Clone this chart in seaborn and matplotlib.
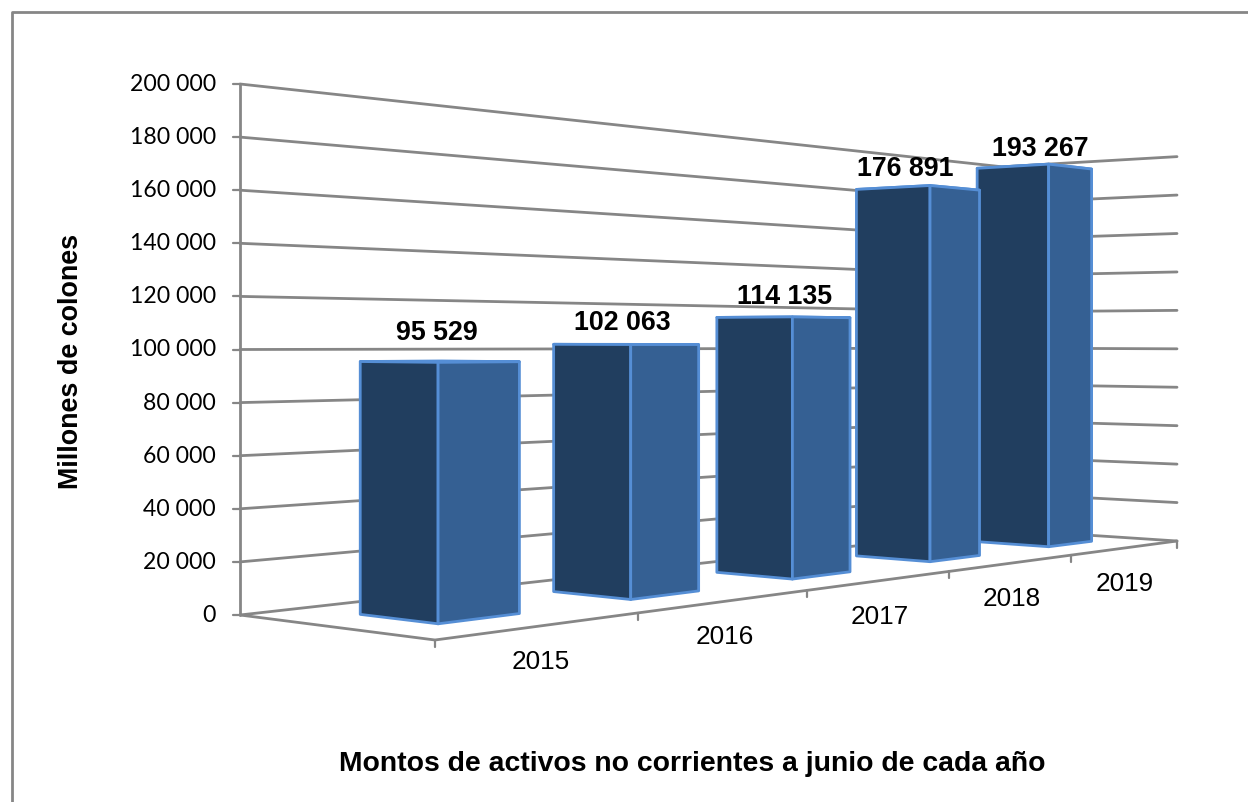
import matplotlib
matplotlib.use('Agg')
import matplotlib.pyplot as plt
import seaborn as sns
import pandas as pd
import numpy as np

years = ['2015', '2016', '2017', '2018', '2019']
montos = [95529, 102063, 114135, 176891, 193267]
y_ticks = [0, 20000, 40000, 60000, 80000, 100000, 120000, 140000, 160000, 180000, 200000]

titulo_x = 'Montos de activos no corrientes a junio de cada año'
titulo_y = 'Millones de colones'

# pixel corners of the floor of the 3d box, excel style
FRONT, RIGHT, LEFT, BACK = (435, 640), (1177, 541), (240, 615), (1002, 529.5)
LEFT_H = 531.0
Y_MAX = 200000.0

sns.set_theme(style='white')
plt.rcParams['font.family'] = ['Liberation Sans', 'DejaVu Sans']

GRID = '#868686'
DARK = '#213E5F'
SIDE = '#356093'
TOP = '#3F6FA8'
EDGE = '#558ED5'
LW = 2.0


def floor_matrix():
    n = len(years)
    src = [(0, 0), (n, 0), (0, 1), (n, 1)]
    dst = [FRONT, RIGHT, LEFT, BACK]
    A, b = [], []
    for (u, v), (x, y) in zip(src, dst):
        A.append([u, v, 1, 0, 0, 0, -u * x, -v * x])
        A.append([0, 0, 0, u, v, 1, -u * y, -v * y])
        b += [x, y]
    return np.linalg.solve(np.array(A, float), np.array(b, float))


M = floor_matrix()
H = LEFT_H * (M[6] * 0 + M[7] * 1 + 1)


def proj(u, v, z=0.0):
    w = M[6] * u + M[7] * v + 1
    x = (M[0] * u + M[1] * v + M[2]) / w
    y = (M[3] * u + M[4] * v + M[5]) / w
    return x, y - (z / Y_MAX) * H / w


def draw_chart():
    fig = plt.figure(figsize=(12.48, 8.02), dpi=100, facecolor='white')
    ax = fig.add_axes([0, 0, 1, 1])

    # outer frame, only left and top are inside the crop
    ax.plot([11.5, 11.5, 1248], [802, 11.5, 11.5], color=GRID, lw=LW)

    # gridlines on both walls
    n = len(years)
    rows = []
    for z in y_ticks:
        for u, v in [(0, 1), (n, 1), (n, 0)]:
            x, y = proj(u, v, z)
            rows.append({'x': x, 'y': y, 'tick': z})
    df_grid = pd.DataFrame(rows)
    sns.lineplot(data=df_grid, x='x', y='y', units='tick', estimator=None, sort=False,
                 color=GRID, lw=LW, ax=ax, legend=False)
    ax.set_xlim(0, 1248)
    ax.set_ylim(802, 0)
    ax.axis('off')

    # value axis
    x0, y0 = proj(0, 1, 0)
    x1, y1 = proj(0, 1, Y_MAX)
    ax.plot([x0, x1], [y0, y1], color=GRID, lw=LW)
    for z in y_ticks:
        x, y = proj(0, 1, z)
        ax.plot([x - 7, x], [y, y], color=GRID, lw=LW * 0.8)
        ax.text(x - 24, y + 0.5, f'{z:,}'.replace(',', ' '), ha='right', va='center',
                fontsize=16.6, family=['Lato', 'DejaVu Sans'], color='black')

    # floor front edges
    pts = [proj(0, 1), proj(0, 0), proj(n, 0)]
    ax.plot([p[0] for p in pts], [p[1] for p in pts], color=GRID, lw=LW)
    for i in range(n + 1):
        x, y = proj(i, 0)
        ax.plot([x, x], [y, y + 7], color=GRID, lw=LW * 0.8)

    # category labels
    for i, lab in enumerate(years):
        x, y = proj(i + 0.5, 0)
        ax.text(x - 1, y + 36, lab, ha='center', va='center', fontsize=18.8, color='black')

    # bars, back to front so 2018 covers 2019
    label_dx = [-1, -8, -8, -25, -8]
    label_dy = [-29, -22, -20, -17, -15]
    for i in reversed(range(n)):
        val = montos[i]
        u0, u1 = i + 0.3, i + 0.7
        v0, v1 = 0.3, 0.7
        top = [proj(u0, v0, val), proj(u1, v0, val), proj(u1, v1, val), proj(u0, v1, val)]
        ax.fill(*zip(*top), facecolor=TOP, edgecolor=EDGE, lw=LW, joinstyle='round', zorder=3)
        left = [proj(u0, v1), proj(u0, v0), proj(u0, v0, val), proj(u0, v1, val)]
        side = [proj(u0, v0), proj(u1, v0), proj(u1, v0, val), proj(u0, v0, val)]
        ax.fill(*zip(*left), facecolor=DARK, edgecolor=EDGE, lw=LW, joinstyle='round', zorder=3)
        ax.fill(*zip(*side), facecolor=SIDE, edgecolor=EDGE, lw=LW, joinstyle='round', zorder=3)
        xt, yt = proj(u0, v0, val)
        ax.text(xt + label_dx[i], yt + label_dy[i], f'{val:,}'.replace(',', ' '), ha='center', va='center',
                fontsize=19.3, fontweight='bold', color='black', zorder=5)

    ax.text(692, 764, titulo_x, ha='center', va='center', fontsize=20.4, fontweight='bold', color='black')
    ax.text(71, 361.5, titulo_y, ha='center', va='center', rotation=90, fontsize=19.4,
            fontweight='bold', color='black')

    fig.savefig('out.png', dpi=100, facecolor='white')


if __name__ == '__main__':
    draw_chart()
